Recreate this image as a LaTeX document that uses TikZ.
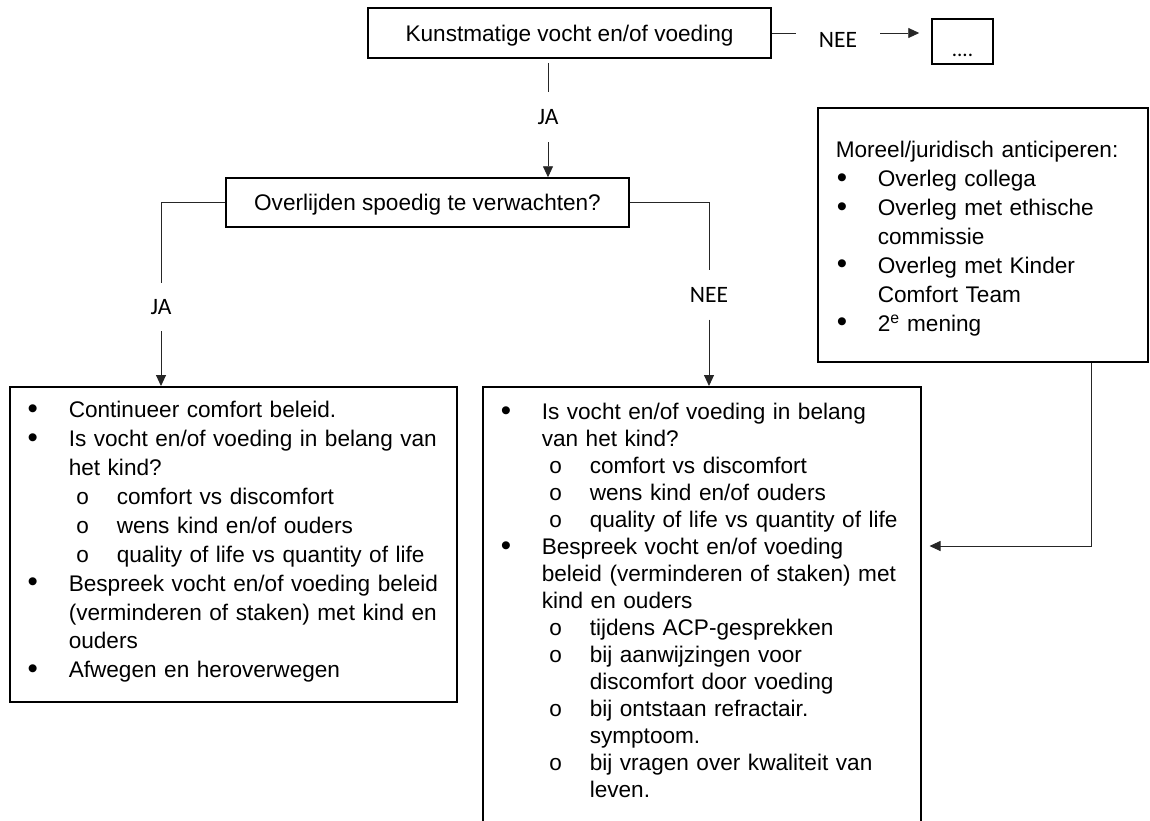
\documentclass[tikz,border=0pt]{standalone}
\usepackage{fontspec}
\setmainfont{Liberation Sans}
\newfontfamily\labelfont{Carlito}
\newfontfamily\rondjefont{Liberation Mono}
\usetikzlibrary{arrows.meta}

\newlength\puntin
\newlength\tekstin
\newlength\subin
\newlength\subtekst
\setlength\puntin{8pt}
\setlength\tekstin{49pt}
\setlength\subin{56pt}
\setlength\subtekst{97pt}
\newcommand{\punt}[1]{\noindent\hangindent=\tekstin\hangafter=1%
  \makebox[\tekstin][l]{\hspace*{\puntin}\raisebox{-0.5pt}{\scalebox{1.3}{\textbullet}}}#1\par}
\newcommand{\subpunt}[1]{\noindent\hangindent=\subtekst\hangafter=1%
  \makebox[\subtekst][l]{\hspace*{\subin}{\rondjefont o}}#1\par}

\begin{document}
\begin{tikzpicture}[x=1pt,y=-1pt,
  doos/.style={draw,line width=1.5pt,inner sep=0pt,font=\fontsize{22.6pt}{28.9pt}\selectfont},
  lijst/.style={doos,anchor=north west,inner xsep=10pt,inner ysep=0pt},
  label/.style={inner sep=0pt,font=\labelfont\fontsize{23.5pt}{27pt}\selectfont},
  lijn/.style={line width=0.9pt,draw=black!85},
  pijl/.style={lijn,-{Triangle[length=11pt,width=10pt]}}]
  \useasboundingbox (0,0) rectangle (1150,820);
  \coordinate (T) at (1091,546);
  \node[doos,minimum width=403pt,minimum height=50pt,text depth=0pt] (K) at (569.5,33) {Kunstmatige vocht en/of voeding};
  \node[doos,minimum width=61pt,minimum height=45pt,text height=29pt,text depth=0pt,font=\labelfont\fontsize{21pt}{24pt}\selectfont] (D) at (962.5,41.5) {....};
  \node[label,minimum width=84pt] (N1) at (838,39.5) {NEE};
  \node[label,minimum height=50pt] (J1) at (548,117) {JA};
  \node[doos,minimum width=403pt,minimum height=49pt,text depth=0pt] (O) at (427.5,202.5) {Overlijden spoedig te verwachten?};
  \node[label,minimum height=48pt] (J2) at (161,307) {JA};
  \node[label,minimum height=49pt] (N2) at (709,295) {NEE};
  \node[lijst,text width=427pt,text height=31pt,text depth=284pt] (L) at (9,386) {\raggedright
    \punt{Continueer comfort beleid.}
    \punt{Is vocht en/of voeding in belang van\newline het kind?}
    \subpunt{comfort vs discomfort}
    \subpunt{wens kind en/of ouders}
    \subpunt{quality of life vs quantity of life}
    \punt{Bespreek vocht en/of voeding beleid\newline (verminderen of staken) met kind en\newline ouders}
    \punt{Afwegen en heroverwegen}};
  \node[lijst,text width=418pt,text height=33pt,text depth=450pt,font=\fontsize{22.6pt}{27pt}\selectfont] (R) at (482,386) {\raggedright
    \punt{Is vocht en/of voeding in belang\newline van het kind?}
    \subpunt{comfort vs discomfort}
    \subpunt{wens kind en/of ouders}
    \subpunt{quality of life vs quantity of life}
    \punt{Bespreek vocht en/of voeding\newline beleid (verminderen of staken) met\newline kind en ouders}
    \subpunt{tijdens ACP-gesprekken}
    \subpunt{bij aanwijzingen voor\newline discomfort door voeding}
    \subpunt{bij ontstaan refractair.\newline symptoom.}
    \subpunt{bij vragen over kwaliteit van\newline leven.}};
  \node[lijst,inner xsep=18pt,text width=294pt,text height=50pt,text depth=204pt] (M) at (817,107) {\raggedright
    \setlength\puntin{1pt}\setlength\tekstin{42pt}%
    \noindent Moreel/juridisch anticiperen:\par
    \punt{Overleg collega}
    \punt{Overleg met ethische\newline commissie}
    \punt{Overleg met Kinder\newline Comfort Team}
    \punt{2\textsuperscript{e} mening}};
  \draw[lijn] (K.east) -- (K.east -| N1.west);
  \draw[pijl,shorten >=12pt] (K.east -| N1.east) -- (K.east -| D.west);
  \draw[lijn,shorten <=4pt] (K.south -| J1.north) -- (J1.north);
  \draw[pijl] (J1.south) -- (O.north -| J1.south);
  \draw[lijn] (O.west) -| (J2.north);
  \draw[pijl] (J2.south) -- (L.north -| J2.south);
  \draw[lijn] (O.east) -| (N2.north);
  \draw[pijl] (N2.south) -- (R.north -| N2.south);
  \draw[pijl,shorten >=8pt] (M.south -| T) -- (T) -- (R.east |- T);
\end{tikzpicture}
\end{document}
